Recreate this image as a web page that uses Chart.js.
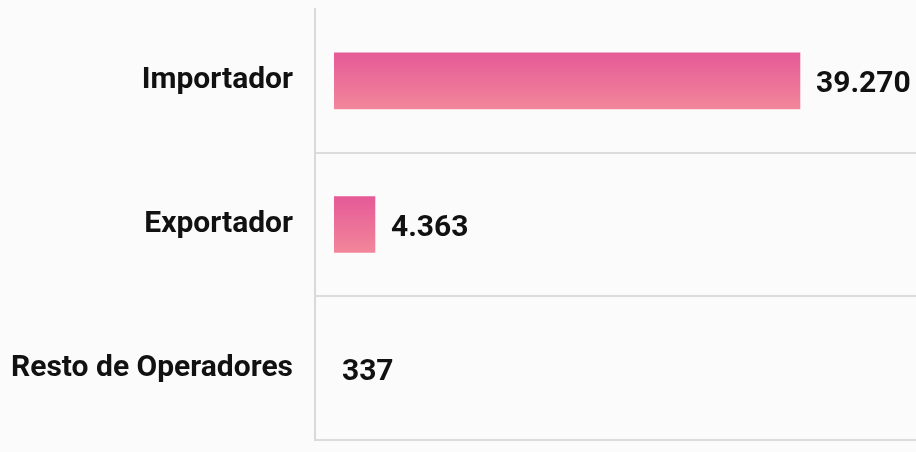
<!DOCTYPE html>
<html lang="es">
<head>
<meta charset="utf-8">
<script src="https://cdn.jsdelivr.net/npm/chart.js@4.4.1/dist/chart.umd.min.js"></script>
<style>
  html, body { margin: 0; padding: 0; background: #fbfbfb; }
  #wrap { width: 916px; height: 452px; }
</style>
</head>
<body>
<div id="wrap"><canvas id="chart"></canvas></div>
<script>
const categories = ['Importador', 'Exportador', 'Resto de Operadores'];
const operadores = [39270, 4363, 337];

const FONT = 'Roboto';
const TEXT = '#111';
const GRID = '#dcdcdc';

function formatNum(v) {
    return String(v).replace(/\B(?=(\d{3})+(?!\d))/g, '.');
}

// vertical pink gradient per bar
function barGradient(ctx) {
    const chart = ctx.chart;
    const y = chart.scales.y;
    if (!y || ctx.dataIndex === undefined) return '#e95f97';
    const mid = y.getPixelForValue(ctx.dataIndex);
    if (!isFinite(mid)) return '#e95f97';
    const g = chart.ctx.createLinearGradient(0, mid - 28, 0, mid + 28);
    g.addColorStop(0, '#e55a97');
    g.addColorStop(1, '#f2869a');
    return g;
}

const valueLabels = {
    id: 'valueLabels',
    afterDatasetsDraw(chart) {
        const ctx = chart.ctx;
        const meta = chart.getDatasetMeta(0);
        ctx.save();
        ctx.font = `bold 30px ${FONT}`;
        ctx.fillStyle = TEXT;
        ctx.textBaseline = 'middle';
        ctx.textAlign = 'left';
        meta.data.forEach((bar, i) => {
            ctx.fillText(formatNum(operadores[i]), bar.x + 16, bar.y + 4);
        });
        ctx.restore();
    }
};

// fixed axis widths, no extra label padding above/below the area
function fitAxis(width) {
    return s => {
        s.width = width;
        s.paddingTop = 0;
        s.paddingBottom = 0;
    };
}

new Chart(document.getElementById('chart'), {
    type: 'bar',
    data: {
        labels: categories,
        datasets: [{
            data: operadores,
            backgroundColor: barGradient,
            borderWidth: 0,
            barThickness: 56,
            clip: 0
        }]
    },
    options: {
        indexAxis: 'y',
        responsive: true,
        maintainAspectRatio: false,
        animation: false,
        layout: { padding: { top: 9, bottom: 12, left: 0, right: 0 } },
        plugins: {
            legend: { display: false },
            tooltip: { enabled: false }
        },
        scales: {
            x: {
                display: false,
                min: 1000,
                max: 48800
            },
            y: {
                weight: 1,
                offset: true,
                grid: { display: false, drawTicks: false },
                border: { display: true, color: '#d9d9d9', width: 2 },
                ticks: {
                    padding: 22,
                    color: TEXT,
                    font: { family: FONT, size: 30, weight: 'bold' }
                },
                afterFit: fitAxis(315)
            },
            y2: {
                type: 'category',
                position: 'left',
                weight: 0,
                offset: true,
                grid: {
                    offset: true,
                    drawTicks: true,
                    tickLength: 19,
                    lineWidth: 2,
                    color: c => c.index === 0 ? 'rgba(0,0,0,0)' : GRID
                },
                border: { display: false },
                ticks: { display: false },
                afterFit: fitAxis(19)
            }
        }
    },
    plugins: [valueLabels]
});
</script>
</body>
</html>
